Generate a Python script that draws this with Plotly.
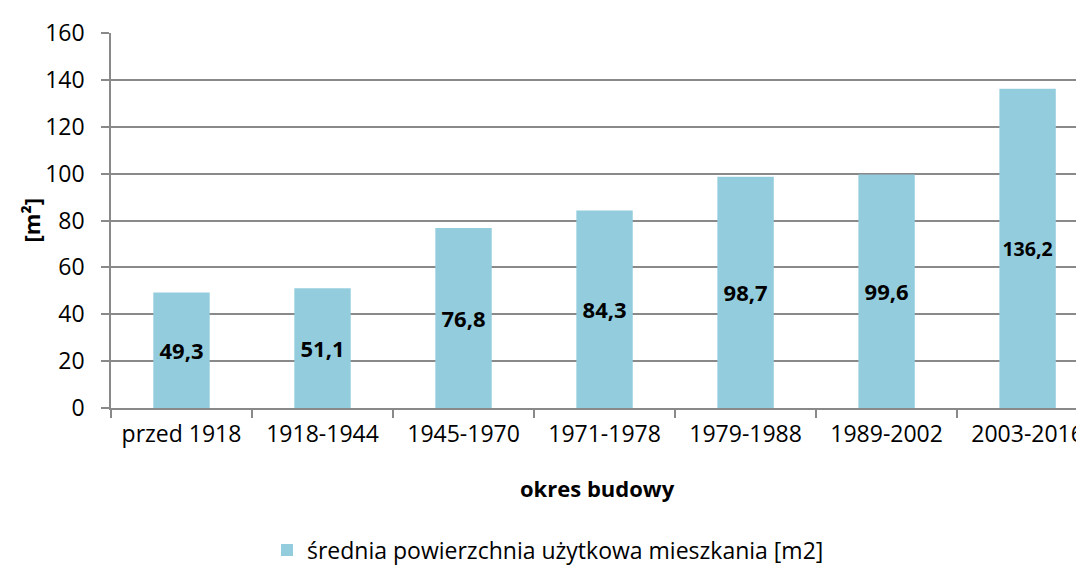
import plotly.graph_objects as go

categories = ["przed 1918", "1918-1944", "1945-1970", "1971-1978", "1979-1988", "1989-2002", "2003-2016"]
values = [49.3, 51.1, 76.8, 84.3, 98.7, 99.6, 136.2]
y_ticks = [0, 20, 40, 60, 80, 100, 120, 140, 160]
series_name = "średnia powierzchnia użytkowa mieszkania [m2]"
x_title = "okres budowy"
y_title = "[m²]"

FONT = "Open Sans"
GRID = "#898989"
FS = 23
FSB = 22

fig = go.Figure()
fig.add_trace(go.Bar(
    x=categories, y=values, name=series_name,
    marker=dict(color="#93CDDD", line=dict(width=0)),
    width=0.4,
    texttemplate="%{y:.1f}",
    textposition="inside", insidetextanchor="middle",
    textfont=dict(family=FONT, size=FSB, color="black", weight="bold"),
    textangle=0,
))

fig.update_layout(
    width=1084, height=568,
    margin=dict(l=103, r=8, t=18, b=168),
    paper_bgcolor="white", plot_bgcolor="white",
    separators=", ",
    font=dict(family=FONT, size=FS, color="black"),
    showlegend=True,
    legend=dict(orientation="h", xref="container", yref="container",
                x=540 / 1084, xanchor="center", y=1 - 542 / 568, yanchor="middle",
                font=dict(family=FONT, size=FS, color="black"),
                itemwidth=30),
    xaxis=dict(
        range=[-0.5, 6.4],
        showline=True, linecolor=GRID, linewidth=1.5,
        ticks="outside", tickson="boundaries", ticklen=8, tickcolor=GRID, tickwidth=1.5,
        showgrid=False, ticklabelstandoff=5,
        tickfont=dict(family=FONT, size=FS),
    ),
    yaxis=dict(
        range=[0, 160], tickvals=y_ticks,
        showline=True, linecolor=GRID, linewidth=1.5,
        ticks="outside", ticklen=8, tickcolor=GRID, tickwidth=1.5,
        showgrid=True, gridcolor=GRID, gridwidth=1.5,
        zeroline=False, ticklabelstandoff=12,
        tickfont=dict(family=FONT, size=FS),
    ),
    annotations=[
        dict(text="<b>" + x_title + "</b>", xref="paper", yref="paper", x=0.5,
             y=0, xanchor="center", yanchor="middle", yshift=-80, showarrow=False,
             font=dict(family=FONT, size=FSB)),
        dict(text="<b>" + y_title + "</b>", xref="paper", yref="paper", x=0, y=0.5,
             xanchor="center", yanchor="middle", xshift=-81, textangle=-90, showarrow=False,
             font=dict(family=FONT, size=FSB)),
    ],
)

fig.write_html("out.html")
